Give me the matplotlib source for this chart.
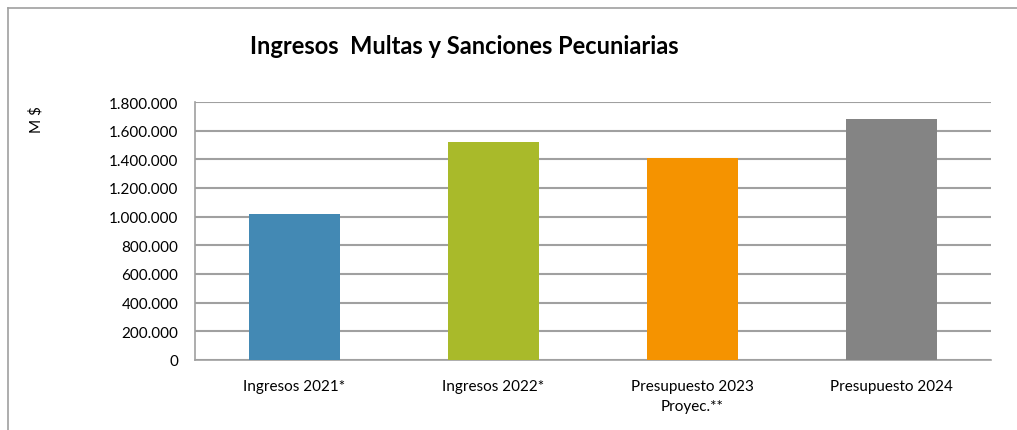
import matplotlib
matplotlib.use("Agg")
import matplotlib.pyplot as plt
from matplotlib.ticker import FuncFormatter

categories = ["Ingresos 2021*", "Ingresos 2022*", "Presupuesto 2023\nProyec.**", "Presupuesto 2024"]
values = [1021000, 1518000, 1407000, 1684000]
colors = ["#4389B4", "#A9BA2A", "#F59300", "#848484"]
yticks = [0, 200000, 400000, 600000, 800000, 1000000, 1200000, 1400000, 1600000, 1800000]

plt.rcParams["font.family"] = ["Lato", "DejaVu Sans"]

fig = plt.figure(figsize=(10.17, 4.31), dpi=100)
ax = fig.add_axes([195 / 1017, 1 - 361 / 431, 796 / 1017, 258 / 431])

x = range(len(categories))
ax.bar(x, values, width=0.46, color=colors, zorder=3)

ax.set_ylim(0, 1800000)
ax.set_xlim(-0.5, len(categories) - 0.5)
ax.set_yticks(yticks)
ax.yaxis.set_major_formatter(FuncFormatter(lambda v, p: f"{int(v):,}".replace(",", ".")))
ax.set_xticks(list(x))
ax.set_xticklabels(categories, fontsize=11, linespacing=1.5, va="top")
ax.tick_params(axis="y", labelsize=11, length=0, pad=12)
ax.tick_params(axis="x", length=0, pad=14)
ax.grid(axis="y", color="#a0a0a0", lw=1.5, zorder=0)

for side in ("top", "right"):
    ax.spines[side].set_visible(False)
for side in ("left", "bottom"):
    ax.spines[side].set_color("#a0a0a0")
    ax.spines[side].set_linewidth(1.2)

fig.text(464 / 1017, 1 - 47 / 431, "Ingresos  Multas y Sanciones Pecuniarias",
         ha="center", va="center", fontsize=17, fontweight="bold")
fig.text(36 / 1017, 1 - 120 / 431, "M $", rotation=90, ha="center", va="center", fontsize=11)

# outer chart frame (left and top edges visible)
fig.add_artist(plt.Line2D([8 / 1017, 8 / 1017], [0, 1 - 9 / 431], color="#a0a0a0", lw=1.2,
                          transform=fig.transFigure))
fig.add_artist(plt.Line2D([8 / 1017, 1], [1 - 9 / 431, 1 - 9 / 431], color="#a0a0a0", lw=1.2,
                          transform=fig.transFigure))

fig.savefig("out.png", dpi=100)
